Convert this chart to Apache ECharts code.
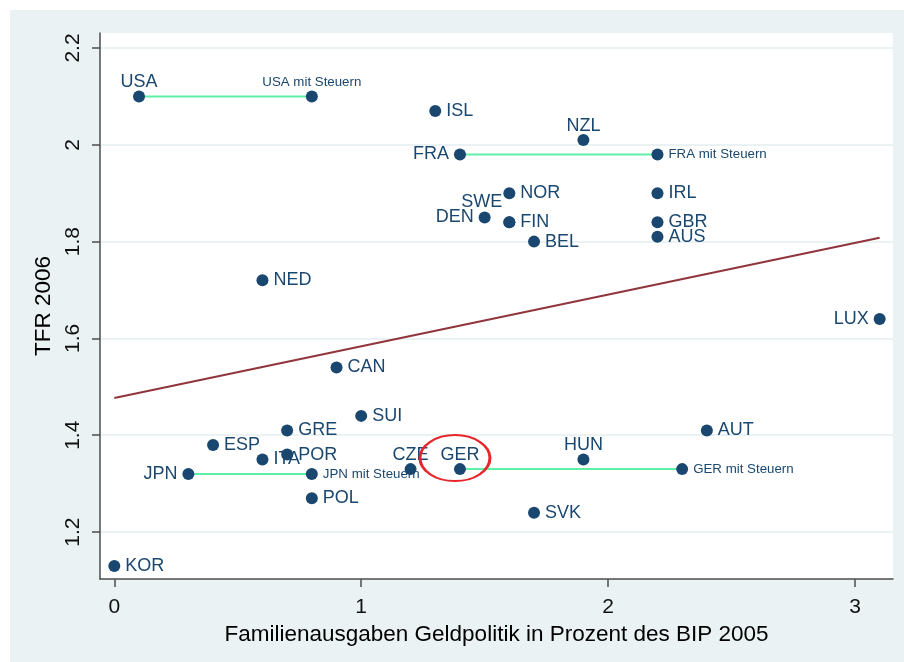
<!DOCTYPE html>
<html>
<head>
<meta charset="utf-8">
<script src="https://cdn.jsdelivr.net/npm/echarts@6/dist/echarts.min.js"></script>
<style>
	body { margin: 0; background: #ffffff; }
	#wrap { position: relative; width: 904px; height: 662px; background: #ffffff; }
	#main { position: absolute; left: 10px; top: 10px; width: 894px; height: 652px; background: #eaf2f3; }
</style>
</head>
<body>
<div id="wrap"><div id="main"></div></div>
<script>
	// Länder: Familienausgaben Geldpolitik (x) und TFR 2006 (y)
	var countries = ['USA', 'ISL', 'NZL', 'FRA', 'NOR', 'SWE', 'DEN', 'FIN', 'BEL', 'IRL', 'GBR', 'AUS',
		'NED', 'LUX', 'CAN', 'SUI', 'GRE', 'ESP', 'ITA', 'POR', 'JPN', 'POL', 'CZE', 'GER', 'HUN', 'AUT', 'SVK', 'KOR'];
	var geldpolitik = [0.1, 1.3, 1.9, 1.4, 1.6, 1.6, 1.5, 1.6, 1.7, 2.2, 2.2, 2.2,
		0.6, 3.1, 0.9, 1.0, 0.7, 0.4, 0.6, 0.7, 0.3, 0.8, 1.2, 1.4, 1.9, 2.4, 1.7, 0.0];
	var tfr = [2.10, 2.07, 2.01, 1.98, 1.90, 1.84, 1.85, 1.84, 1.80, 1.90, 1.84, 1.81,
		1.72, 1.64, 1.54, 1.44, 1.41, 1.38, 1.35, 1.36, 1.32, 1.27, 1.33, 1.33, 1.35, 1.41, 1.24, 1.13];

	// mit Steuern
	var steuerLaender = ['USA', 'FRA', 'JPN', 'GER'];
	var steuerX = [0.8, 2.2, 0.8, 2.3];
	var steuerY = [2.10, 1.98, 1.32, 1.33];

	// lineare Anpassung
	var fitX = [0, 3.1];
	var fitY = [1.477, 1.808];

	var xTicks = [0, 1, 2, 3];
	var yTicks = [1.2, 1.4, 1.6, 1.8, 2.0, 2.2];

	var labelLeft = ['FRA', 'DEN', 'LUX', 'JPN'];
	var labelTop = ['USA', 'NZL', 'CZE', 'GER', 'HUN'];

	var navy = '#1a476f';
	var font = '"Liberation Sans", Arial, sans-serif';

	var myChart = echarts.init(document.getElementById('main'));

	var mainData = [];
	for (var i = 0; i < countries.length; i++) {
		var c = countries[i];
		var lab = { position: 'right', distance: 5 };
		if (labelLeft.indexOf(c) >= 0) lab = { position: 'left', distance: 5 };
		if (labelTop.indexOf(c) >= 0) lab = { position: 'top', distance: -1 };
		if (c == 'SWE') lab = { position: 'left', distance: 3, offset: [2, -20] };
		mainData.push({ name: c, value: [geldpolitik[i], tfr[i]], label: lab });
	}

	var steuerData = [];
	for (var j = 0; j < steuerLaender.length; j++) {
		var lab2 = { position: 'right', distance: 5 };
		if (steuerLaender[j] == 'USA') lab2 = { position: 'top', distance: 2 };
		steuerData.push({ name: steuerLaender[j] + ' mit Steuern', value: [steuerX[j], steuerY[j]], label: lab2 });
	}

	var series = [];
	// Gitterlinien
	series.push({
		type: 'line', data: [], silent: true, z: 0,
		markLine: {
			symbol: 'none', silent: true, animation: false, z: 0,
			label: { show: false },
			lineStyle: { color: '#eaf2f3', width: 2, type: 'solid' },
			data: yTicks.map(function(v) { return { yAxis: v }; })
		}
	});
	// Verbindungslinien
	for (var k = 0; k < steuerLaender.length; k++) {
		var idx = countries.indexOf(steuerLaender[k]);
		series.push({
			type: 'line', symbol: 'none', z: 2, silent: true,
			lineStyle: { color: '#5ef0a6', width: 2 },
			data: [[geldpolitik[idx], tfr[idx]], [steuerX[k], steuerY[k]]]
		});
	}
	series.push({
		type: 'line', symbol: 'none', z: 2, silent: true,
		lineStyle: { color: '#90353b', width: 2 },
		data: [[fitX[0], fitY[0]], [fitX[1], fitY[1]]]
	});
	series.push({
		type: 'scatter', z: 5, symbolSize: 12,
		itemStyle: { color: navy, opacity: 1 },
		label: { show: true, formatter: '{b}', color: navy, fontSize: 18, fontFamily: font },
		data: mainData
	});
	series.push({
		type: 'scatter', z: 5, symbolSize: 12,
		itemStyle: { color: navy, opacity: 1 },
		label: { show: true, formatter: '{b}', color: navy, fontSize: 13.3, fontFamily: font },
		data: steuerData
	});

	myChart.setOption({
		animation: false,
		grid: { left: 90, top: 23, right: 11, bottom: 83, show: true, backgroundColor: '#ffffff', borderWidth: 0 },
		xAxis: {
			type: 'value', min: -0.058, max: 3.154,
			name: 'Familienausgaben Geldpolitik in Prozent des BIP 2005',
			nameLocation: 'middle', nameGap: 44,
			nameTextStyle: { fontSize: 22.5, color: '#000', fontFamily: font },
			axisLine: { show: true, onZero: false, lineStyle: { color: '#4d4d4d', width: 1.5 } },
			axisTick: { show: true, length: 8, customValues: xTicks, lineStyle: { color: '#4d4d4d', width: 1.5 } },
			axisLabel: { customValues: xTicks, fontSize: 21, color: '#111', margin: 18, fontFamily: font },
			splitLine: { show: false }
		},
		yAxis: {
			type: 'value', min: 1.103, max: 2.231,
			name: 'TFR 2006',
			nameLocation: 'middle', nameGap: 42, nameRotate: 90,
			nameTextStyle: { fontSize: 22.5, color: '#000', fontFamily: font },
			axisLine: { show: true, onZero: false, lineStyle: { color: '#4d4d4d', width: 1.5 } },
			axisTick: { show: true, length: 8, customValues: yTicks, lineStyle: { color: '#4d4d4d', width: 1.5 } },
			axisLabel: { customValues: yTicks, fontSize: 21, color: '#111', margin: 16, rotate: 90, fontFamily: font,
				formatter: function(v) { return String(Math.round(v * 10) / 10); } },
			splitLine: { show: false }
		},
		series: series
	});

	// roter Kreis um GER
	var ger = countries.indexOf('GER');
	var p = myChart.convertToPixel({ gridIndex: 0 }, [geldpolitik[ger], tfr[ger]]);
	myChart.setOption({
		graphic: [{
			type: 'circle', z: 10,
			x: p[0] - 5, y: p[1] - 11, scaleX: 35 / 23,
			shape: { cx: 0, cy: 0, r: 23 },
			style: { fill: 'none', stroke: '#e8262a', lineWidth: 2, strokeNoScale: true }
		}]
	});
</script>
</body>
</html>
